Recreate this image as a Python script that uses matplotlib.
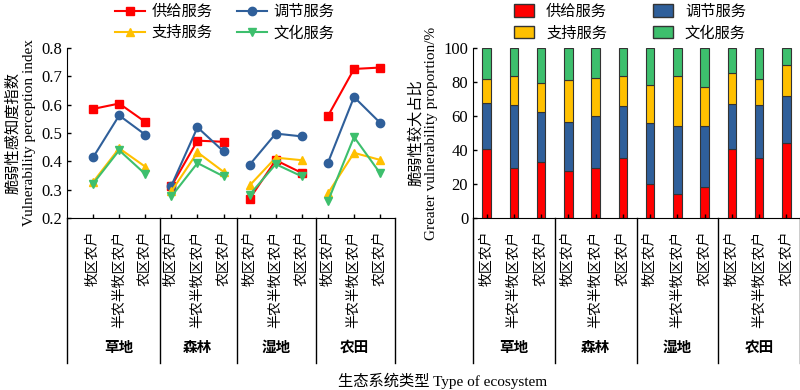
import matplotlib
matplotlib.use('Agg')
import matplotlib.pyplot as plt
import matplotlib.transforms as mtransforms
from matplotlib.patches import Patch
import numpy as np

plt.rcParams['font.family'] = ['Liberation Serif', 'Noto Sans CJK SC']
plt.rcParams['axes.unicode_minus'] = False

groups = ['草地', '森林', '湿地', '农田']
farmers = ['牧区农户', '半农半牧区农户', '农区农户']
services = ['供给服务', '调节服务', '支持服务', '文化服务']

# vulnerability perception index, 12 values per service (4 ecosystems x 3 farmer types)
supply = [0.585, 0.604, 0.539, 0.312, 0.473, 0.469, 0.268, 0.404, 0.359, 0.560, 0.726, 0.731]
regulate = [0.414, 0.562, 0.494, 0.314, 0.520, 0.435, 0.388, 0.498, 0.488, 0.395, 0.627, 0.536]
support = [0.327, 0.446, 0.381, 0.294, 0.432, 0.363, 0.315, 0.413, 0.404, 0.287, 0.430, 0.405]
culture = [0.321, 0.439, 0.355, 0.276, 0.394, 0.347, 0.282, 0.390, 0.347, 0.259, 0.486, 0.358]

# greater vulnerability proportion (%)
p_supply = [40.8, 29.4, 32.7, 27.6, 29.4, 35.5, 20.2, 14.1, 18.0, 40.4, 35.3, 43.9]
p_regulate = [26.7, 37.3, 29.7, 28.7, 30.4, 30.2, 35.7, 40.2, 35.9, 26.7, 31.2, 28.1]
p_support = [14.1, 17.0, 16.8, 24.7, 22.6, 17.6, 22.1, 29.2, 23.4, 18.4, 15.5, 18.0]
p_culture = [18.4, 16.3, 20.8, 19.0, 17.6, 16.7, 22.0, 16.5, 22.7, 14.5, 18.0, 10.0]

colors = ['#ff0000', '#2f5f9a', '#ffc000', '#3dbf6d']
markers = ['s', 'o', '^', 'v']
legend_order = [0, 2, 1, 3]  # legend fills by column; reference reads row-wise

fig = plt.figure(figsize=(8, 3.9), dpi=100)
ax1 = fig.add_axes([67 / 800, 1 - 218 / 390, 328 / 800, 170 / 390])
ax2 = fig.add_axes([473 / 800, 1 - 218 / 390, 327 / 800, 170 / 390])

ticklabels = farmers * 4

# ---- left: line chart
x1 = np.arange(1, 13)
handles = []
for vals, c, m, name in zip([supply, regulate, support, culture], colors, markers, services):
    for g in range(4):
        sl = slice(g * 3, g * 3 + 3)
        h, = ax1.plot(x1[sl], vals[sl], color=c, marker=m, markersize=6, lw=1.5, label=name)
    handles.append(h)
ax1.set_xlim(0, 12.57)
ax1.set_ylim(0.2, 0.8)
ax1.set_yticks(np.arange(0.2, 0.81, 0.1))
ax1.set_yticklabels(['%.1f' % v for v in np.arange(0.2, 0.81, 0.1)], fontsize=12)
ax1.set_xticks(x1)
ax1.set_xticklabels(ticklabels, rotation=90, fontsize=10)
ax1.set_ylabel('脆弱性感知度指数\nVulnerability perception index', fontsize=11, labelpad=4)
ax1.legend(handles=[handles[i] for i in legend_order], ncol=2, loc='lower center',
           bbox_to_anchor=(0.48, 1.0), frameon=False, fontsize=11, handlelength=2.0,
           columnspacing=1.6, handletextpad=0.4, borderaxespad=0.1, labelspacing=0.45)
seps1 = [0, 3.57, 6.52, 9.53, 12.57]
centers1 = [2, 5, 8, 11]

# ---- right: stacked bars
x2 = np.arange(12)
bottom = np.zeros(12)
for vals, c in zip([p_supply, p_regulate, p_support, p_culture], colors):
    ax2.bar(x2, vals, 0.32, bottom=bottom, color=c, edgecolor='#333333', lw=0.8)
    bottom = bottom + np.array(vals)
ax2.set_xlim(-0.5, 11.5)
ax2.set_ylim(0, 100)
ax2.set_yticks(np.arange(0, 101, 20))
ax2.tick_params(axis='y', labelsize=12)
ax2.set_xticks(x2)
ax2.set_xticklabels(ticklabels, rotation=90, fontsize=10)
ax2.set_ylabel('脆弱性较大占比\nGreater vulnerability proportion/%', fontsize=11, labelpad=4)
patches = [Patch(facecolor=c, edgecolor='#333333', label=s) for c, s in zip(colors, services)]
ax2.legend(handles=[patches[i] for i in legend_order], ncol=2, loc='lower center',
           bbox_to_anchor=(0.48, 1.0), frameon=False, fontsize=11, handlelength=1.3,
           handleheight=0.9, columnspacing=3.0, handletextpad=0.8, borderaxespad=0.1,
           labelspacing=0.45)
seps2 = [-0.5, 2.5, 5.5, 8.5, 11.5]
centers2 = [1, 4, 7, 10]

for ax, seps, centers in [(ax1, seps1, centers1), (ax2, seps2, centers2)]:
    for s in ['top', 'right']:
        ax.spines[s].set_visible(False)
    ax.tick_params(direction='in', length=3, width=1)
    ax.tick_params(axis='x', pad=9)
    trans = mtransforms.blended_transform_factory(ax.transData, ax.transAxes)
    for s in seps:
        ax.plot([s, s], [0, -0.853], transform=trans, color='black', lw=1, clip_on=False)
    for c, g in zip(centers, groups):
        ax.text(c, -0.765, g, transform=trans, ha='center', va='center',
                fontsize=10.5, fontweight='bold')

fig.text(443 / 800, 1 - 381 / 390, '生态系统类型 Type of ecosystem', ha='center', va='center',
         fontsize=11)

fig.savefig('out.png', dpi=100)
